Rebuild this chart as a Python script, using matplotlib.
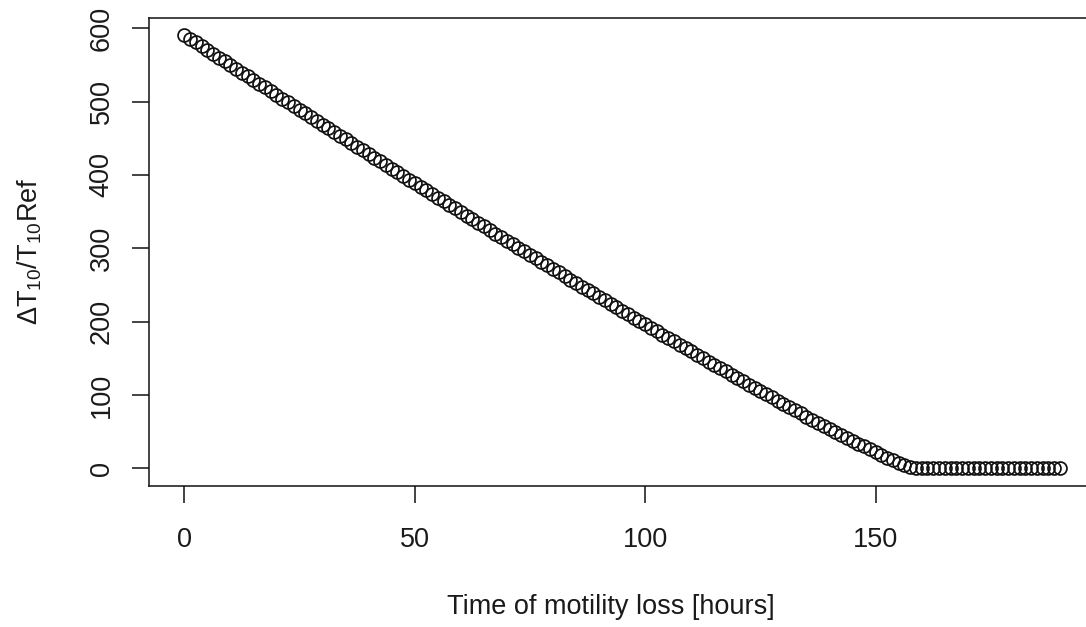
import matplotlib
matplotlib.use("Agg")
import matplotlib.pyplot as plt

# time of motility loss (hours) and the relative change of T10
hours = [0, 1.25, 2.5, 3.75, 5, 6.25, 7.5, 8.75,
         10, 11.25, 12.5, 13.75, 15, 16.25, 17.5, 18.75,
         20, 21.25, 22.5, 23.75, 25, 26.25, 27.5, 28.75,
         30, 31.25, 32.5, 33.75, 35, 36.25, 37.5, 38.75,
         40, 41.25, 42.5, 43.75, 45, 46.25, 47.5, 48.75,
         50, 51.25, 52.5, 53.75, 55, 56.25, 57.5, 58.75,
         60, 61.25, 62.5, 63.75, 65, 66.25, 67.5, 68.75,
         70, 71.25, 72.5, 73.75, 75, 76.25, 77.5, 78.75,
         80, 81.25, 82.5, 83.75, 85, 86.25, 87.5, 88.75,
         90, 91.25, 92.5, 93.75, 95, 96.25, 97.5, 98.75,
         100, 101.25, 102.5, 103.75, 105, 106.25, 107.5, 108.75,
         110, 111.25, 112.5, 113.75, 115, 116.25, 117.5, 118.75,
         120, 121.25, 122.5, 123.75, 125, 126.25, 127.5, 128.75,
         130, 131.25, 132.5, 133.75, 135, 136.25, 137.5, 138.75,
         140, 141.25, 142.5, 143.75, 145, 146.25, 147.5, 148.75,
         150, 151.25, 152.5, 153.75, 155, 156.25, 157.5, 158.75,
         160, 161.25, 162.5, 163.75, 165, 166.25, 167.5, 168.75,
         170, 171.25, 172.5, 173.75, 175, 176.25, 177.5, 178.75,
         180, 181.25, 182.5, 183.75, 185, 186.25, 187.5, 188.75,
         190]

dT10 = [591.0, 585.8, 580.7, 575.5, 570.4, 565.3, 560.1, 555.0, 549.9, 544.8,
        539.7, 534.7, 529.6, 524.5, 519.4, 514.3, 509.2, 504.1, 499.0, 494.0,
        488.9, 483.9, 478.8, 473.8, 468.8, 463.8, 458.7, 453.7, 448.6, 443.6,
        438.6, 433.6, 428.6, 423.6, 418.6, 413.7, 408.7, 403.8, 398.8, 393.8,
        388.9, 383.9, 378.9, 374.0, 369.0, 364.1, 359.2, 354.3, 349.4, 344.5,
        339.7, 334.8, 329.9, 325.0, 320.1, 315.2, 310.3, 305.5, 300.7, 295.8,
        291.0, 286.2, 281.4, 276.7, 271.8, 267.0, 262.2, 257.4, 252.6, 247.9,
        243.1, 238.4, 233.7, 229.0, 224.3, 219.6, 214.9, 210.2, 205.5, 200.8,
        196.1, 191.4, 186.8, 182.2, 177.6, 173.0, 168.4, 163.9, 159.4, 154.8,
        150.2, 145.6, 141.0, 136.5, 132.0, 127.5, 123.0, 118.6, 114.2, 109.8,
        105.5, 101.1, 96.7, 92.2, 87.8, 83.4, 79.1, 74.8, 70.6, 66.4,
        62.2, 58.1, 54.0, 50.0, 45.9, 41.8, 37.7, 33.7, 29.8, 26.0,
        22.2, 18.3, 14.6, 11.0, 7.5, 4.2, 1.1,
        0, 0, 0, 0, 0, 0, 0, 0, 0, 0,
        0, 0, 0, 0, 0, 0, 0, 0, 0, 0,
        0, 0, 0, 0, 0, 0]

xticks = [0, 50, 100, 150]
yticks = [0, 100, 200, 300, 400, 500, 600]

plt.rcParams['font.family'] = 'Liberation Sans'
plt.rcParams['mathtext.fontset'] = 'custom'
plt.rcParams['mathtext.rm'] = 'Liberation Sans'

W, H = 1086, 627
FS = 19.5
TXT = '#1a1a1a'
fig = plt.figure(figsize=(W / 100, H / 100), dpi=100)
# plot region runs past the right edge of the picture (cropped R plot)
ax = fig.add_axes([149.3 / W, (H - 485.6) / H, (1095 - 149.3) / W, 468 / H])

ax.plot(hours, dT10, 'o', mfc='none', mec='#111111', ms=9.3, mew=1.25)

# R style 4% padding
ax.set_xlim(-7.6, 197.6)
ax.set_ylim(-23.64, 614.64)
ax.set_xticks(xticks)
ax.set_yticks(yticks)
ax.tick_params(direction='out', length=12, width=1.1, labelsize=FS,
               color='#111111', labelcolor=TXT)
ax.tick_params(axis='x', pad=18)
ax.tick_params(axis='y', pad=13, labelrotation=90)
plt.setp(ax.get_yticklabels(), va='center')
for s in ax.spines.values():
    s.set_linewidth(1.1)
    s.set_color('#111111')

ax.set_xlabel('Time of motility loss [hours]', fontsize=FS, va='center', color=TXT)
ax.xaxis.set_label_coords((611 - 149.3) / (1095 - 149.3), -0.2594)
ax.set_ylabel(r'$\mathregular{\Delta T_{10}/T_{10}Ref}$', fontsize=FS, va='center', color=TXT)
ax.yaxis.set_label_coords(-0.1261, 0.5)

fig.savefig('out.png', dpi=100)
